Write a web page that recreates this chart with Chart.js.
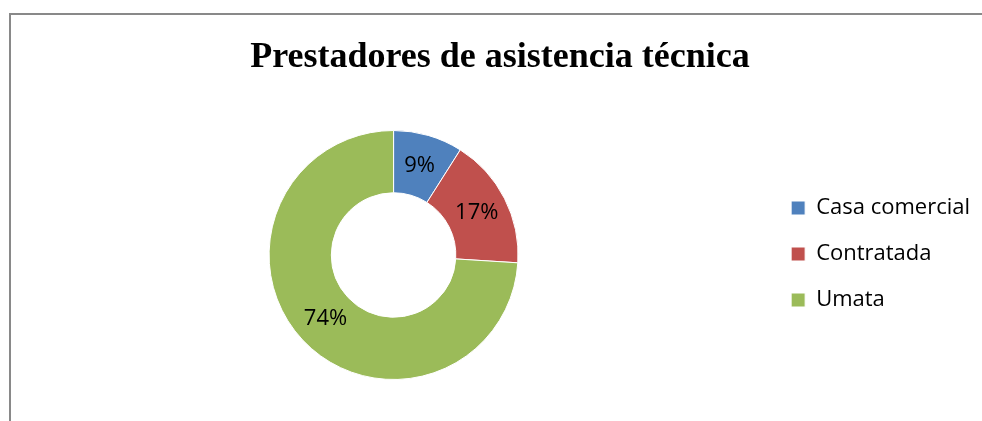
<!DOCTYPE html>
<html>
<head>
<meta charset="utf-8">
<script src="https://cdn.jsdelivr.net/npm/chart.js@4.4.0/dist/chart.umd.min.js"></script>
<style>
    html, body { margin: 0; padding: 0; background: #fff; }
    #wrap { position: relative; width: 982px; height: 421px; overflow: hidden; }
    #frame { position: absolute; left: 9px; top: 13px; width: 1000px; height: 500px;
        border: 2px solid #898989; box-sizing: border-box; }
    #chart { position: absolute; left: 0; top: 0; }
</style>
</head>
<body>
<div id="wrap">
    <div id="frame"></div>
    <canvas id="chart" width="982" height="421"></canvas>
</div>
<script>
    // data
    var categories = ['Casa comercial', 'Contratada', 'Umata'];
    var shares = [9, 17, 74];
    var colors = ['#4F81BD', '#C0504D', '#9BBB59'];

    // percent labels drawn on the ring
    var sliceLabels = {
        id: 'sliceLabels',
        afterDatasetsDraw: function (chart) {
            var ctx = chart.ctx;
            var meta = chart.getDatasetMeta(0);
            ctx.save();
            ctx.font = '22px "Open Sans", sans-serif';
            ctx.fillStyle = '#000';
            ctx.textAlign = 'center';
            ctx.textBaseline = 'middle';
            meta.data.forEach(function (arc, i) {
                var p = arc.tooltipPosition();
                ctx.fillText(shares[i] + '%', p.x, p.y);
            });
            ctx.restore();
        }
    };

    new Chart(document.getElementById('chart'), {
        type: 'doughnut',
        data: {
            labels: categories,
            datasets: [{
                data: shares,
                backgroundColor: colors,
                borderColor: '#ffffff',
                borderWidth: 1
            }]
        },
        options: {
            responsive: false,
            animation: false,
            cutout: '50%',
            layout: { padding: { left: 20, right: 2, top: 36, bottom: 41 } },
            plugins: {
                title: {
                    display: true,
                    text: 'Prestadores de asistencia técnica',
                    color: '#000',
                    font: { family: '"Liberation Serif", "Times New Roman", serif', size: 36, weight: 'bold' },
                    padding: { top: 0, bottom: 50.8 }
                },
                legend: {
                    position: 'right',
                    // empty title only pushes the entries down to sit beside the ring
                    title: { display: true, text: ' ', font: { size: 10 }, padding: { top: 80, bottom: 0 } },
                    labels: {
                        color: '#000',
                        boxWidth: 14,
                        boxHeight: 14,
                        padding: 24,
                        font: { family: '"Open Sans", sans-serif', size: 22 }
                    }
                },
                tooltip: { enabled: false }
            }
        },
        plugins: [sliceLabels]
    });
</script>
</body>
</html>
